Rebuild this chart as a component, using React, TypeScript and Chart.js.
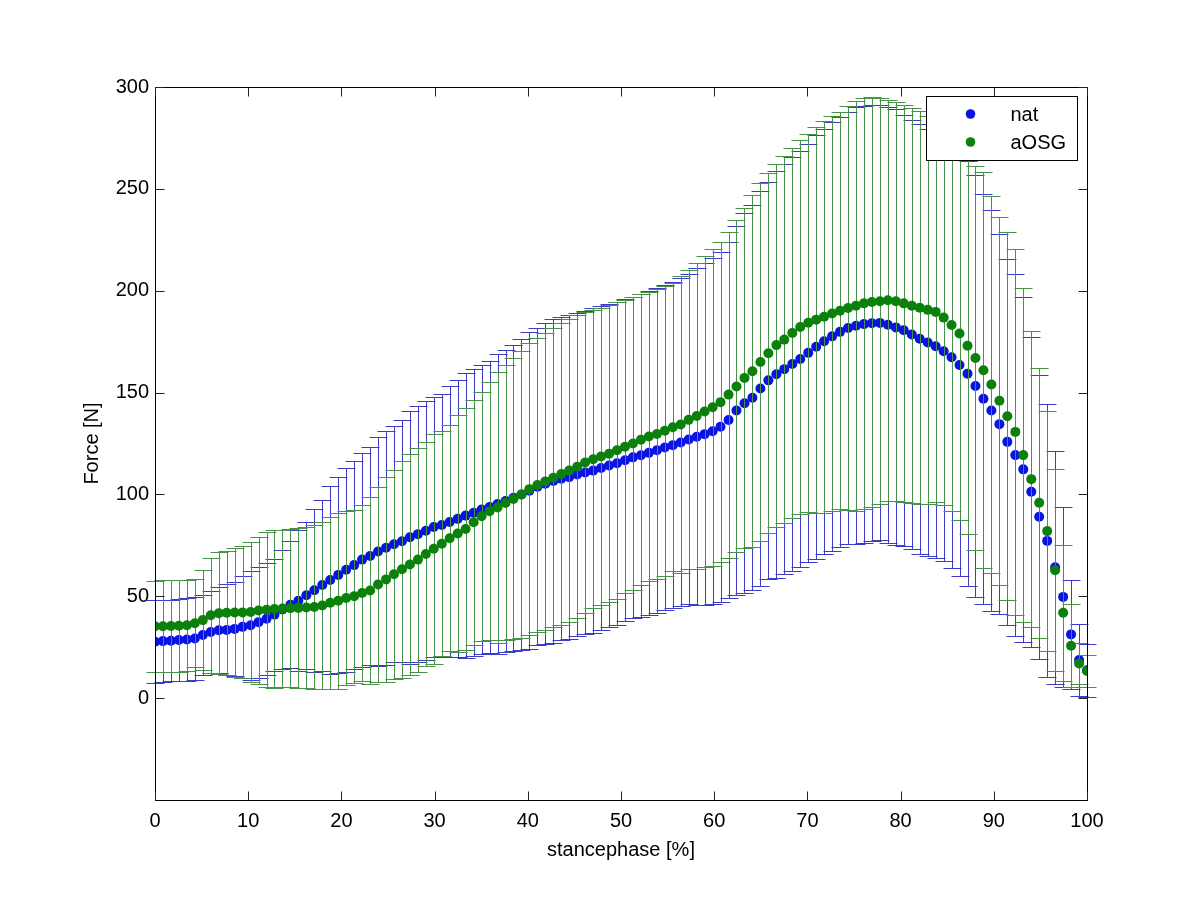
import React, { useEffect, useRef } from 'react';
import { Chart, registerables } from 'chart.js';

Chart.register(...registerables);

// stance phase sample positions [%]
const stancePhase = [
  0, 0.85, 1.71, 2.56, 3.42, 4.27, 5.13, 5.98, 6.84, 7.69,
  8.55, 9.40, 10.26, 11.11, 11.97, 12.82, 13.68, 14.53, 15.38, 16.24,
  17.09, 17.95, 18.80, 19.66, 20.51, 21.37, 22.22, 23.08, 23.93, 24.79,
  25.64, 26.50, 27.35, 28.21, 29.06, 29.91, 30.77, 31.62, 32.48, 33.33,
  34.19, 35.04, 35.90, 36.75, 37.61, 38.46, 39.32, 40.17, 41.03, 41.88,
  42.74, 43.59, 44.44, 45.30, 46.15, 47.01, 47.86, 48.72, 49.57, 50.43,
  51.28, 52.14, 52.99, 53.85, 54.70, 55.56, 56.41, 57.26, 58.12, 58.97,
  59.83, 60.68, 61.54, 62.39, 63.25, 64.10, 64.96, 65.81, 66.67, 67.52,
  68.38, 69.23, 70.09, 70.94, 71.79, 72.65, 73.50, 74.36, 75.21, 76.07,
  76.92, 77.78, 78.63, 79.49, 80.34, 81.20, 82.05, 82.91, 83.76, 84.62,
  85.47, 86.32, 87.18, 88.03, 88.89, 89.74, 90.60, 91.45, 92.31, 93.16,
  94.02, 94.87, 95.73, 96.58, 97.44, 98.29, 99.15, 100,
];

const natMean = [
  27.7, 28, 28.2, 28.5, 28.8, 29.3, 31, 32.5, 33.3, 33.5,
  34, 35, 35.8, 37.3, 39, 41, 43.5, 45.8, 47.8, 50.5,
  53, 55.5, 58, 60.5, 63, 65.3, 68, 69.8, 72, 73.8,
  75.5, 77, 79, 80.5, 82.2, 84, 85, 86.5, 88, 89.6,
  91, 92.6, 93.8, 95.3, 96.8, 98.4, 100, 101.8, 103.8, 105.2,
  106.6, 107.7, 108.5, 109.8, 110.8, 111.7, 113, 114.2, 115.3, 116.8,
  118.2, 119.2, 120.4, 121.7, 123, 124.2, 125.5, 127, 128.3, 129.6,
  131, 133.2, 136.5, 141.2, 144.8, 147.5, 152, 156, 159, 161.5,
  164, 166.5, 169.5, 172.5, 175.2, 177.6, 179.8, 181.7, 182.8, 183.6,
  184, 184.2, 183.3, 182, 180.6, 178.5, 176.4, 174.6, 172.7, 170.3,
  167.3, 163.5, 159.3, 153.2, 147, 141.2, 134.5, 125.8, 119.3, 112.3,
  101.3, 89, 77.2, 64.2, 49.7, 31.3, 18.7, 13.7,
];

const natSD = [
  20.3, 20, 20, 20, 20.2, 20.2, 19.5, 20, 21.2, 22.3,
  23, 25, 26.7, 27.2, 27.5, 27.5, 29, 31.2, 34.5, 36,
  40, 42, 46, 48, 50, 51, 52.5, 53.5, 56, 57.5,
  58, 59.5, 62, 63, 63.5, 64, 64.5, 66.5, 68, 69.9,
  70.5, 70.9, 71.8, 73.7, 74.2, 75.1, 76.5, 77.7, 77.8, 78.8,
  79.4, 79.3, 79.5, 79.2, 79.2, 79.6, 79.5, 79.3, 79.2, 79,
  78.8, 79.3, 79.6, 79.8, 79.8, 80, 80.5, 81, 82.7, 83.9,
  85, 85.8, 87.5, 90.8, 93.2, 94.5, 97, 97.5, 100, 100.5,
  101.5, 102, 102.5, 104, 104.3, 105.4, 105.7, 105.8, 107.2, 107.2,
  107, 106.8, 107, 107, 105.9, 105.5, 105.6, 104.9, 103.8, 103.2,
  103.2, 103.5, 104.3, 103.5, 100.7, 98.4, 93.1, 90, 88.9, 84.7,
  76.1, 69.6, 67, 57.1, 44.3, 26.7, 17.6, 13,
];

const aosgMean = [
  35.3, 35.3, 35.4, 35.5, 35.8, 36.8, 38.3, 40.7, 41.7, 41.9,
  42, 42.1, 42.3, 43, 43.4, 43.8, 44, 44.2, 44.3, 44.5,
  44.7, 45.5, 46.8, 47.8, 49.2, 50, 51.6, 52.8, 55.8, 58.3,
  60.8, 63.3, 65.6, 68, 70.8, 73.3, 75.8, 78.5, 80.8, 83,
  86.3, 89.3, 91.8, 93.6, 95.8, 97.8, 100, 102.6, 104.6, 106.4,
  108.2, 110, 111.7, 113.6, 115.7, 117.3, 118.6, 120, 121.7, 123.4,
  125, 126.8, 128.4, 129.7, 131.3, 133, 134.3, 136.6, 138.5, 140.7,
  142.8, 145.3, 149, 153, 157.2, 160.5, 165, 169.3, 173.3, 176,
  179.3, 182.2, 184.3, 185.8, 187.2, 188.8, 190.2, 191.5, 192.6, 193.8,
  194.5, 194.8, 195.3, 194.8, 193.8, 192.6, 191.6, 190.6, 189.6, 186.8,
  183.2, 179, 173, 167, 161, 154, 146, 138.4, 130.7, 119.3,
  107.5, 95.9, 82, 62.8, 41.9, 25.7, 17, 13.3,
];

const aosgSD = [
  22.3, 22.5, 22.6, 22.5, 22.4, 21.7, 24.7, 28.3, 29.8, 30.4,
  31.8, 32.4, 34.4, 36, 38.1, 38.7, 38.7, 38.8, 39.3, 39.7,
  40.3, 40.9, 42.2, 43.2, 42.8, 42.5, 43.4, 45.7, 47.8, 50.5,
  51.2, 53.2, 54.4, 55, 55, 56.3, 55.2, 55.5, 58.2, 59.5,
  60, 61.2, 63.2, 66.4, 67.5, 69, 70.5, 71.5, 72, 73,
  73.5, 74, 74.5, 74.5, 73.8, 73.2, 72.9, 73, 72.8, 71.9,
  72, 71.4, 70.9, 71.3, 71.2, 70.8, 72.7, 73.4, 75, 76.1,
  77.7, 78.7, 80, 81.5, 83.5, 86.5, 88, 88.4, 89.1, 90,
  90.7, 91.8, 92.7, 94.8, 96.3, 97, 97.3, 99, 100.7, 100.8,
  100.5, 99.7, 98.4, 97.8, 97.4, 96.9, 96.4, 95.4, 93.4, 92.2,
  91.5, 91.5, 92.5, 94.3, 97.2, 92.4, 90.3, 90.2, 89.7, 82,
  72.7, 66.3, 59, 49.5, 33.5, 20.3, 10.2, 8,
];

const seriesLabels = ['nat', 'aOSG'];
const xTickValues = [0, 10, 20, 30, 40, 50, 60, 70, 80, 90, 100];
const yTickValues = [0, 50, 100, 150, 200, 250, 300];
const xAxisTitle = 'stancephase [%]';
const yAxisTitle = 'Force [N]';

const FONT = "'Liberation Sans', Arial, Helvetica, sans-serif";
const NAT_DOT = '#0a14e0';
const NAT_BAR = 'rgb(60,60,200)';
const AOSG_DOT = '#0b800b';
const AOSG_BAR = 'rgb(72,145,72)';

const errorBarPlugin = {
  id: 'errorBars',
  beforeDatasetDraw(chart: any, args: any) {
    const ds = chart.data.datasets[args.index];
    const sd: number[] = ds.sd;
    if (!sd) return;
    const xs = chart.scales.x;
    const ys = chart.scales.y;
    const ctx = chart.ctx;
    ctx.save();
    ctx.strokeStyle = ds.barColor;
    ctx.lineWidth = 1;
    const capHalf = 9;
    ds.data.forEach((p: any, i: number) => {
      const px = Math.round(xs.getPixelForValue(p.x)) + 0.5;
      const yTop = Math.round(ys.getPixelForValue(p.y + sd[i])) + 0.5;
      const yBot = Math.round(ys.getPixelForValue(p.y - sd[i])) + 0.5;
      ctx.beginPath();
      ctx.moveTo(px, yTop);
      ctx.lineTo(px, yBot);
      ctx.moveTo(px - capHalf, yTop);
      ctx.lineTo(px + capHalf, yTop);
      ctx.moveTo(px - capHalf, yBot);
      ctx.lineTo(px + capHalf, yBot);
      ctx.stroke();
    });
    ctx.restore();
  },
};

const framePlugin = {
  id: 'matlabFrame',
  afterDatasetsDraw(chart: any) {
    const { ctx, chartArea: a } = chart;
    const xs = chart.scales.x;
    const ys = chart.scales.y;
    const L = Math.round(a.left) + 0.5;
    const R = Math.round(a.right) + 0.5;
    const T = Math.round(a.top) + 0.5;
    const B = Math.round(a.bottom) + 0.5;
    ctx.save();
    ctx.strokeStyle = '#000';
    ctx.lineWidth = 1;
    ctx.strokeRect(L, T, R - L, B - T);
    ctx.strokeStyle = '#222';
    const tl = 9;
    ctx.beginPath();
    xTickValues.forEach((v) => {
      const x = Math.round(xs.getPixelForValue(v)) + 0.5;
      ctx.moveTo(x, B);
      ctx.lineTo(x, B - tl);
      ctx.moveTo(x, T);
      ctx.lineTo(x, T + tl);
    });
    yTickValues.forEach((v) => {
      const y = Math.round(ys.getPixelForValue(v)) + 0.5;
      ctx.moveTo(L, y);
      ctx.lineTo(L + tl, y);
      ctx.moveTo(R, y);
      ctx.lineTo(R - tl, y);
    });
    ctx.stroke();
    ctx.restore();
  },
};

const legendPlugin = {
  id: 'insideLegend',
  afterDraw(chart: any) {
    const { ctx, chartArea: a } = chart;
    const w = 151;
    const h = 64;
    const x0 = Math.round(a.right) - 10 - w + 0.5;
    const y0 = Math.round(a.top) + 9.5;
    ctx.save();
    ctx.fillStyle = '#fff';
    ctx.fillRect(x0, y0, w, h);
    ctx.strokeStyle = '#000';
    ctx.lineWidth = 1;
    ctx.strokeRect(x0, y0, w, h);
    const items = chart.data.datasets.slice().sort((p: any, q: any) => p.legendIndex - q.legendIndex);
    items.forEach((ds: any, k: number) => {
      const cy = y0 + 17.5 + k * 28;
      ctx.fillStyle = ds.backgroundColor;
      ctx.beginPath();
      ctx.arc(x0 + 44, cy, 4.8, 0, Math.PI * 2);
      ctx.fill();
      ctx.fillStyle = '#000';
      ctx.font = `20px ${FONT}`;
      ctx.textBaseline = 'middle';
      ctx.textAlign = 'left';
      ctx.fillText(ds.label, x0 + 84, cy + 1);
    });
    ctx.restore();
  },
};

export default function App() {
  const canvasRef = useRef<HTMLCanvasElement | null>(null);

  useEffect(() => {
    const canvas = canvasRef.current;
    if (!canvas) return;
    const natPoints = stancePhase.map((x, i) => ({ x, y: natMean[i] }));
    const aosgPoints = stancePhase.map((x, i) => ({ x, y: aosgMean[i] }));
    const tickFont = { family: FONT, size: 20 };
    const chart = new Chart(canvas, {
      type: 'scatter',
      data: {
        datasets: [
          {
            label: seriesLabels[0],
            data: natPoints,
            backgroundColor: NAT_DOT,
            borderWidth: 0,
            pointRadius: 5,
            order: 2,
            sd: natSD,
            barColor: NAT_BAR,
            legendIndex: 0,
          } as any,
          {
            label: seriesLabels[1],
            data: aosgPoints,
            backgroundColor: AOSG_DOT,
            borderWidth: 0,
            pointRadius: 5,
            order: 1,
            sd: aosgSD,
            barColor: AOSG_BAR,
            legendIndex: 1,
          } as any,
        ],
      },
      options: {
        responsive: false,
        animation: false,
        devicePixelRatio: 1,
        layout: { padding: { left: 76, right: 113, top: 87, bottom: 34 } },
        plugins: {
          legend: { display: false },
          tooltip: { enabled: false },
        },
        scales: {
          x: {
            type: 'linear',
            min: 0,
            max: 100,
            afterFit: (s: any) => {
              s.height = 66;
            },
            afterBuildTicks: (s: any) => {
              s.ticks = xTickValues.map((v) => ({ value: v }));
            },
            grid: { display: false, drawTicks: false },
            border: { display: false },
            ticks: {
              color: '#000',
              font: tickFont,
              padding: 9,
              maxRotation: 0,
              autoSkip: false,
              callback: (v: any) => String(v),
            },
            title: {
              display: true,
              text: xAxisTitle,
              color: '#000',
              font: tickFont,
              padding: { top: 4, bottom: 4 },
            },
          },
          y: {
            type: 'linear',
            min: -50,
            max: 300,
            afterFit: (s: any) => {
              s.width = 79;
            },
            afterBuildTicks: (s: any) => {
              s.ticks = yTickValues.map((v) => ({ value: v }));
            },
            grid: { display: false, drawTicks: false },
            border: { display: false },
            ticks: {
              color: '#000',
              font: tickFont,
              padding: 6,
              callback: (v: any) => String(v),
            },
            title: {
              display: true,
              text: yAxisTitle,
              color: '#000',
              font: tickFont,
              padding: { top: 4, bottom: 4 },
            },
          },
        },
      } as any,
      plugins: [errorBarPlugin, framePlugin, legendPlugin],
    });
    return () => chart.destroy();
  }, []);

  return (
    <div style={{ position: 'absolute', left: 0, top: 0, width: 1200, height: 900, background: '#fff' }}>
      <canvas ref={canvasRef} width={1200} height={900} style={{ display: 'block', width: 1200, height: 900 }} />
    </div>
  );
}
